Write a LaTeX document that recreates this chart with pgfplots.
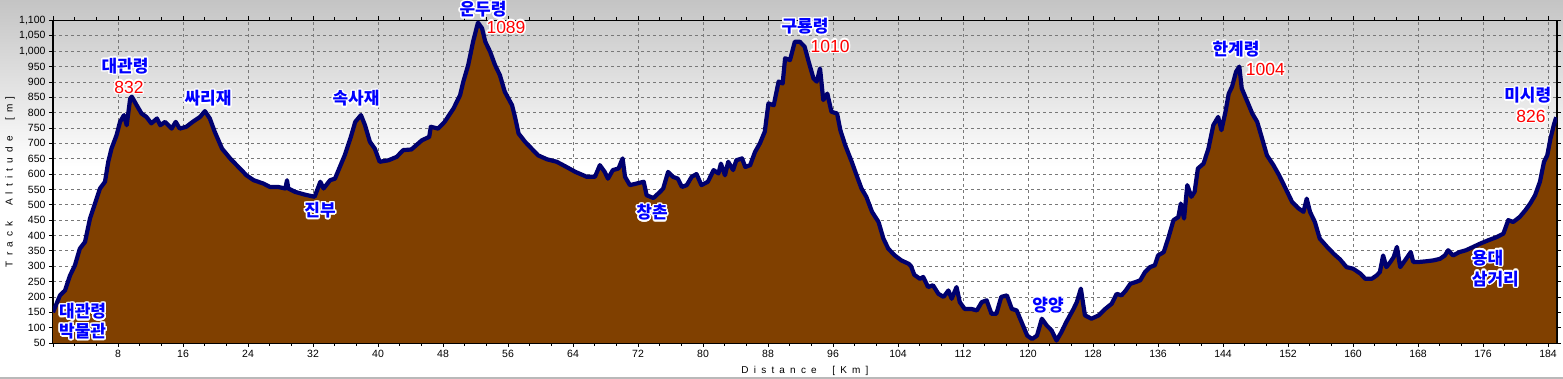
\documentclass[border=0pt]{standalone}
\usepackage{fontspec}
\setmainfont{Liberation Sans}
\newfontfamily\kr{Noto Sans CJK KR}
\usepackage{pgfplots}
\usepackage{pgfplotstable}
\pgfplotsset{compat=1.18}
\usepackage{contour}
\contourlength{1.5pt}
\definecolor{brownfill}{RGB}{128,64,0}
\definecolor{navyline}{RGB}{0,0,110}
\definecolor{kblue}{RGB}{0,0,255}
\definecolor{kred}{RGB}{255,0,0}
\definecolor{topgray}{RGB}{196,196,196}
\definecolor{gridgray}{RGB}{120,120,120}
\newcommand\KL[1]{{\kr\bfseries\fontsize{17}{18}\selectfont\textcolor{kblue}{\contour{white}{#1}}}}
\newcommand\RN[1]{{\fontsize{17.5}{18}\selectfont\textcolor{kred}{\contour{white}{#1}}}}
\newcommand\ls{\hspace{5.2pt}}

\pgfplotstableread{
km elev
0 150
0.86 205
1.48 221
2.1 270
2.7 303
3.3 357
3.94 379
4.55 455
5.17 504
5.78 553
6.4 575
6.8 640
7.2 683
7.83 727
8.25 770
8.74 792
9.07 759
9.5 846
9.7 852
10.3 824
10.9 797
11.5 786
12.1 765
12.8 781
13.2 759
13.8 770
14.6 748
15.1 770
15.6 748
16.4 754
17.3 772
18.1 786
18.7 805
19.3 781
19.9 738
20.8 683
21.8 651
22.6 629
23.2 613
23.8 596
24.7 580
25.9 569
26.7 558
27.7 558
28.6 553
28.8 580
28.96 553
29.8 542
31.0 533
32.2 526
32.9 575
33.3 553
34.1 580
34.7 585
35.3 623
35.9 661
36.6 716
37.2 770
37.9 792
38.4 759
39.0 705
39.6 683
40.2 640
41.3 645
42.3 656
43.1 678
44.1 680
45.4 710
46.3 721
46.5 754
47.4 748
48.2 770
49.3 814
50.1 857
50.5 901
51.1 955
51.7 1031
52.3 1093
52.8 1075
53.2 1031
53.8 998
54.4 955
55.0 922
55.6 868
56.5 824
56.9 781
57.3 732
58.1 705
58.9 683
59.7 661
60.8 648
62.0 640
63.2 623
64.3 607
65.7 591
66.7 591
67.3 629
67.9 607
68.3 585
68.9 613
69.6 618
70.1 651
70.4 591
71.0 564
71.8 569
72.7 575
73.06 531
73.9 522
74.7 542
75.1 553
75.7 607
76.3 591
76.9 585
77.4 558
78.0 564
78.6 591
79.2 600
79.8 564
80.6 575
81.3 613
81.9 602
82.2 634
82.7 596
83.1 640
83.7 613
84.1 645
84.8 651
85.2 623
85.8 629
86.4 672
87.0 700
87.6 738
88.05 830
88.7 824
89.3 901
89.8 895
90.1 977
90.7 971
91.3 1031
91.9 1031
92.5 1015
93.0 966
93.6 911
94.0 901
94.4 944
94.8 841
95.3 862
95.8 803
96.5 797
96.9 743
97.5 694
98.3 640
98.9 596
99.5 553
100.1 526
100.8 477
101.6 444
102.2 390
102.8 357
103.6 335
104.4 319
105.3 308
105.6 300
106.0 272
106.7 259
107.1 265
107.7 232
108.3 238
108.97 210
109.6 200
110.2 221
110.6 194
111.2 232
111.6 183
112.2 161
113.0 161
113.7 156
114.3 183
114.9 189
115.5 145
116.1 145
116.7 200
117.4 205
118.0 161
118.6 156
119.2 118
119.9 74
120.5 63
121.1 74
121.7 129
122.3 107
122.9 91
123.5 58
124.1 85
124.7 118
125.6 161
126.0 183
126.5 227
127.0 140
127.8 129
128.7 140
129.5 161
130.3 178
130.9 210
131.5 205
132.0 220
132.6 243
133.2 248
133.8 254
134.4 281
135.0 297
135.6 303
136.0 335
136.7 346
137.3 395
137.9 450
138.5 460
138.8 504
139.2 455
139.6 564
140.1 526
140.5 542
140.9 618
141.6 634
142.2 683
142.8 759
143.4 786
143.8 743
144.3 803
144.7 862
145.1 884
145.6 933
146.0 950
146.3 879
147.0 835
147.6 797
148.2 770
148.8 716
149.4 661
150.2 629
150.9 596
151.7 553
152.5 509
153.3 488
153.9 477
154.3 520
154.7 477
155.3 444
155.9 390
156.8 363
157.6 341
158.4 322
159.2 297
160.0 292
160.9 276
161.5 259
162.3 259
162.9 270
163.3 281
163.7 335
164.1 297
164.6 314
165.0 330
165.4 363
165.8 297
166.4 319
167.1 346
167.4 314
168.2 314
169.0 316
169.9 319
170.7 324
171.3 335
171.7 352
172.3 335
173.1 346
173.9 352
174.8 363
175.6 373
176.6 384
177.7 395
178.5 406
179.1 450
179.7 444
180.5 460
181.2 482
181.8 504
182.4 531
183.0 575
183.5 640
183.9 661
184.3 716
184.7 759
185.0 785
}\profile

\begin{document}
\begin{tikzpicture}
\useasboundingbox (0,0) rectangle (1563pt,379pt);
\shade[top color=topgray, bottom color=white] (0,212pt) rectangle (1563pt,379pt);
\draw[gray!55, line width=1.5pt] (0,1pt) -- (1563pt,1pt);
\begin{axis}[
  at={(53pt,36pt)}, anchor=south west,
  scale only axis, width=1504pt, height=322.5pt,
  xmin=0, xmax=185.1, ymin=50, ymax=1100,
  clip mode=individual,
  axis line style={black, line width=1.6pt},
  xtick={0,8,...,184},
  xticklabels={,8,16,24,32,40,48,56,64,72,80,88,96,104,112,120,128,136,144,152,160,168,176,184},
  minor x tick num=2,
  ytick={50,100,...,1100},
  tick align=outside,
  major tick length=4pt, minor tick length=3pt,
  tick style={black, line width=0.8pt},
  /pgf/number format/assume math mode=true,
  /pgf/number format/1000 sep={,},
  ticklabel style={font=\fontsize{10.5}{12}\selectfont},
  xmajorgrids, ymajorgrids,
  major grid style={gridgray, line width=0.8pt, dash pattern=on 3pt off 3pt},
  xlabel={D\ls i\ls s\ls t\ls a\ls n\ls c\ls e\ls\ls\ls [\ls K\ls m\ls ]},
  ylabel={T\ls r\ls a\ls c\ls k\ls\ls\ls A\ls l\ls t\ls i\ls t\ls u\ls d\ls e\ls\ls\ls [\ls m\ls ]},
  label style={font=\fontsize{10}{11}\selectfont},
  xlabel style={at={(axis description cs:0.5,-0.087)}, anchor=center},
  ylabel style={at={(axis description cs:-0.0286,0.5)}, anchor=center},
]
\addplot[fill=brownfill, draw=none] table[x=km, y=elev] {\profile} \closedcycle;
\addplot[navyline, line width=4.2pt, line join=round] table[x=km, y=elev] {\profile};

\node at (axis cs:8.86,949) {\KL{대관령}};
\node at (axis cs:9.35,880) {\RN{832}};
\node at (axis cs:19.08,844) {\KL{싸리재}};
\node[anchor=west, inner sep=0pt] at (axis cs:0.74,150) {\KL{대관령}};
\node[anchor=west, inner sep=0pt] at (axis cs:0.74,86) {\KL{박물관}};
\node at (axis cs:32.86,480) {\KL{진부}};
\node at (axis cs:37.29,844) {\KL{속사재}};
\node at (axis cs:52.92,1134) {\KL{운두령}};
\node at (axis cs:55.75,1076) {\RN{1089}};
\node at (axis cs:73.72,473) {\KL{창촌}};
\node at (axis cs:92.55,1079) {\KL{구룡령}};
\node at (axis cs:95.63,1014) {\RN{1010}};
\node at (axis cs:122.46,170) {\KL{양양}};
\node at (axis cs:145.6,1004) {\KL{한계령}};
\node at (axis cs:149.2,939) {\RN{1004}};
\node at (axis cs:181.5,854) {\KL{미시령}};
\node at (axis cs:181.9,786) {\RN{826}};
\node[anchor=west, inner sep=0pt] at (axis cs:174.6,325) {\KL{용대}};
\node[anchor=west, inner sep=0pt] at (axis cs:174.6,256) {\KL{삼거리}};
\end{axis}
\end{tikzpicture}
\end{document}
